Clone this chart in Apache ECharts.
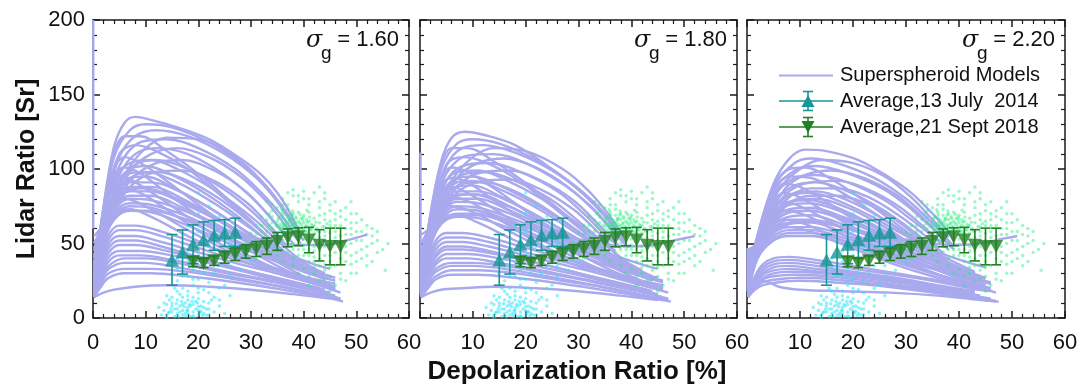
<!DOCTYPE html>
<html><head><meta charset="utf-8">
<script src="https://cdn.jsdelivr.net/npm/echarts@6/dist/echarts.min.js"></script>
<style>html,body{margin:0;padding:0;background:#fff}#c{width:1089px;height:388px}</style>
</head><body><div id="c"></div>
<script>
// ---------- DATA ----------
const panelSigma = ['1.60', '1.80', '2.20'];
const xTitle = 'Depolarization Ratio [%]';
const yTitle = 'Lidar Ratio [Sr]';
const legendNames = ['Superspheroid Models', 'Average,13 July  2014', 'Average,21 Sept 2018'];

// averages (same in every panel)
const julyX = [15, 17, 19, 21, 23, 25, 27];
const julyY = [39, 44.3, 49.5, 52.5, 55.5, 57, 57.5];
const julyErr = [17, 14.8, 13, 12, 10, 9, 9.5];

const septX = [19, 21, 23, 25, 27, 29, 31, 33, 35, 37, 39, 41, 43, 45, 47];
const septY = [37.8, 36.8, 38.5, 40.8, 42.8, 44.7, 46.3, 48.2, 51.4, 53.8, 54.5, 52.3, 48.8, 48, 48];
const septErr = [3.4, 3, 3.2, 4, 4.2, 4.5, 5, 5.5, 6, 6, 6, 8.5, 10.5, 12.3, 12.3];

// superspheroid model curves, flat [x0,y0,x1,y1,...]
const curvesS160 = [
  [0.05,60, 0.05,200],
  [0.2,22, 2,75, 4,115, 6,131, 8,135, 11,133, 16,128, 22,120, 28,107, 32,96, 35,84, 37.5,70, 39.5,55],
  [0.2,28, 2,72, 4,108, 7,126, 10,130, 15,128, 22,118, 28,104, 33,88, 36.5,72, 39,58],
  [0.2,34, 2,70, 5,108, 8,122, 12,126, 18,122, 25,110, 31,94, 35,78, 38,62, 40,52],
  [0.2,40, 2,68, 5,102, 9,118, 14,120, 20,114, 27,100, 32,84, 36,68, 39,52],
  [0.2,45, 2,66, 5,96, 8,110, 12,114, 18,110, 25,96, 31,78, 35,62, 38,50],
  [0.2,50, 2,64, 5,90, 8,103, 12,106, 18,100, 25,86, 30,72, 34,58, 37,48],
  [0.2,55, 2,63, 5,85, 8,96, 12,98, 18,92, 24,80, 30,64, 34,52, 36,45],
  [0.2,32, 3,70, 6,96, 10,114, 14,121, 20,120, 27,108, 32,92, 36,74, 39,58],
  [0.2,36, 3,68, 7,98, 11,110, 16,114, 22,108, 28,95, 33,78, 37,60, 39.5,50],
  [0.2,42, 3,66, 7,92, 12,104, 17,106, 23,99, 29,85, 34,66, 37.5,52],
  [0.2,47, 3,65, 7,88, 12,98, 17,99, 23,92, 29,78, 33,64, 36,52],
  [0.2,26, 2,74, 4,110, 6,122, 9,122, 14,112, 21,94, 28,72, 34,52, 38,40, 41,32],
  [0.2,30, 2,72, 5,110, 8,116, 12,112, 18,100, 25,80, 32,58, 37,42, 40,35],
  [0.2,20, 2,70, 4,100, 6,108, 9,104, 14,92, 20,76, 27,58, 34,40, 40,28, 44,22],
  [0.2,24, 2,72, 4,96, 6,101, 9,97, 14,84, 21,66, 28,49, 35,35, 41,25, 46,20],
  [0.2,26, 2,68, 4,90, 6,94, 9,89, 15,75, 22,58, 29,43, 36,31, 43,22],
  [0.2,30, 2,66, 4,84, 6,87, 10,82, 16,68, 23,52, 31,38, 38,28, 44,21],
  [0.2,33, 2,64, 4,78, 6,80, 10,75, 17,61, 25,46, 33,34, 40,26, 46,19],
  [0.2,36, 2,62, 4,72, 7,73, 11,68, 18,55, 26,42, 34,31, 42,23, 47,17],
  [0.2,30, 2,65, 4,88, 7,100, 10,102, 15,96, 22,82, 29,64, 35,46, 40,34, 43,28],
  [0.2,35, 2,66, 4,92, 7,104, 11,106, 16,100, 23,86, 30,68, 35,52, 39,40, 42,33],
  [0.2,28, 2,62, 4,85, 7,97, 10,98, 16,91, 23,77, 30,60, 36,45, 41,35, 44,30],
  [0.2,25, 2,60, 4,82, 7,94, 10,95, 15,88, 22,74, 30,56, 36,42, 41,32, 44,27],
  [0.2,22, 2,59, 4,80, 7,91, 11,91, 17,84, 24,70, 31,53, 37,40, 42,32, 45,28],
  [0.2,20, 2,58, 4,78, 7,88, 11,88, 17,80, 24,66, 31,50, 37,38, 42,30, 45,26],
  [0.2,19, 2,56, 4,76, 7,85, 11,85, 17,77, 25,63, 32,48, 38,37, 43,30],
  [0.2,18, 2,55, 4,74, 7,82, 11,82, 17,74, 25,60, 32,46, 38,35, 43,28],
  [0.2,17, 2,53, 4,72, 7,80, 11,79, 18,71, 26,57, 33,44, 39,35, 44,28],
  [0.2,16, 2,52, 4,70, 7,77, 11,76, 18,68, 26,54, 33,42, 39,33, 44,26],
  [0.2,15, 2,51, 4,68, 7,75, 11,74, 18,65, 26,52, 34,41, 40,33, 46,27],
  [0.2,15, 2,50, 4,66, 7,72, 11,71, 18,62, 26,50, 34,39, 40,31, 46,25],
  [0.2,40, 2,62, 4,78, 7,86, 10,87, 16,80, 23,68, 30,54, 36,44, 42,36, 45,33],
  [0.2,38, 3,62, 6,72, 11,72, 18,66, 26,58, 33,52, 39,49, 44,49, 48,52, 52,56],
  [0.2,15, 1.5,40, 3,56, 5,62, 8,62, 13,58, 20,50, 28,41, 35,33, 42,26, 46,23],
  [0.2,15, 1.5,38, 3,53, 5,59, 8,59, 13,55, 20,47, 28,38, 36,31, 43,24, 46,21],
  [0.2,15, 1.5,36, 3,50, 5,55, 8,55, 13,51, 20,44, 28,36, 36,29, 43,22],
  [0.2,15, 1.5,34, 3,47, 5,52, 8,52, 13,48, 20,41, 28,33, 36,26, 43,20],
  [0.2,14, 1.5,32, 3,44, 5,49, 8,49, 14,45, 22,38, 30,31, 38,24, 44,19],
  [0.2,14, 1.5,30, 3,41, 5,45, 9,45, 15,42, 23,36, 31,29, 39,22, 45,17],
  [0.2,14, 1.5,28, 3,38, 5,42, 9,42, 15,39, 23,33, 31,27, 39,21, 46,15],
  [0.2,14, 1.5,26, 3,35, 6,40, 10,40, 16,37, 24,31, 33,25, 41,19, 47,13],
  [0.2,14, 1.5,25, 3,33, 6,37, 10,37, 16,34, 24,29, 33,23, 41,17, 47,12],
  [0.2,14, 1.5,23, 3,30, 6,33, 11,33, 18,31, 27,26, 36,21, 44,15, 47,12],
  [0.2,14, 1.5,21, 3,27, 6,30, 11,30, 18,28, 27,24, 36,19, 44,14, 47.5,11],
  [0.2,14, 2,17, 4,19, 8,21, 14,22, 22,21, 30,19, 38,16, 45,13]
];
const curvesS180 = [
  [0.1,16, 0.1,111],
  [0.2,20, 2,70, 4,105, 6,121, 8.5,125, 12,123, 18,116, 25,100, 31,84, 35,70, 37.5,58],
  [0.2,26, 2,68, 4,100, 7,117, 10,120, 15,117, 22,106, 28,92, 33,76, 36.5,62, 38.5,52],
  [0.2,32, 2,66, 5,102, 8,114, 12,116, 18,111, 25,99, 31,83, 35,68, 38,55],
  [0.2,38, 2,65, 5,97, 9,109, 14,110, 20,104, 27,90, 32,76, 36,61, 39,50],
  [0.2,44, 2,63, 5,92, 8,102, 13,104, 19,98, 26,85, 31,70, 35,56, 38,47],
  [0.2,50, 2,62, 5,86, 8,96, 12,98, 18,92, 25,79, 30,65, 34,53, 37,45],
  [0.2,56, 2,61, 5,82, 8,90, 12,91, 18,85, 24,73, 30,58, 34,48],
  [0.2,30, 3,66, 6,92, 10,108, 14,114, 20,112, 27,100, 32,85, 36,68, 38.5,55],
  [0.2,35, 3,64, 7,94, 11,104, 16,107, 22,101, 28,88, 33,72, 37,56, 39.5,47],
  [0.2,41, 3,63, 7,88, 12,98, 17,99, 23,92, 29,79, 34,62, 37.5,49],
  [0.2,46, 3,62, 7,84, 12,92, 17,93, 23,86, 29,73, 33,60, 36,49],
  [0.2,26, 2,70, 4,103, 6,114, 9,114, 14,105, 21,88, 28,68, 34,49, 38,38, 41,31],
  [0.2,30, 2,68, 5,103, 8,108, 12,105, 18,94, 25,75, 32,55, 37,40, 40,34],
  [0.2,20, 2,66, 4,93, 6,101, 9,98, 14,87, 20,72, 27,55, 34,39, 40,28, 44,22],
  [0.2,24, 2,67, 4,89, 6,94, 9,91, 14,79, 21,63, 28,47, 35,34, 41,25, 46,20],
  [0.2,26, 2,63, 4,84, 6,88, 9,84, 15,71, 22,55, 29,41, 36,30, 43,22],
  [0.2,30, 2,62, 4,78, 6,81, 10,77, 16,64, 23,49, 31,36, 38,27, 44,20],
  [0.2,33, 2,60, 4,73, 6,75, 10,71, 17,58, 25,44, 33,33, 40,25, 46,19],
  [0.2,36, 2,58, 4,67, 7,69, 11,64, 18,52, 26,40, 34,30, 42,22, 47,17],
  [0.2,30, 2,62, 4,83, 7,94, 10,95, 15,89, 22,76, 29,60, 35,44, 40,34, 43,29],
  [0.2,34, 2,63, 4,87, 7,98, 11,99, 16,93, 23,80, 30,63, 35,49, 39,38, 42,32],
  [0.2,27, 2,60, 4,80, 7,91, 10,92, 16,85, 23,72, 30,56, 36,43, 41,33, 44,28],
  [0.2,24, 2,58, 4,78, 7,88, 10,89, 15,82, 22,69, 30,53, 36,40, 41,31, 44,27],
  [0.2,22, 2,56, 4,76, 7,85, 11,85, 17,78, 24,65, 31,50, 37,38, 42,30, 45,27],
  [0.2,20, 2,55, 4,74, 7,83, 11,83, 17,75, 24,62, 31,48, 37,37, 42,29, 45,25],
  [0.2,19, 2,53, 4,72, 7,80, 11,80, 17,72, 25,59, 32,46, 38,35, 43,28],
  [0.2,18, 2,52, 4,70, 7,78, 11,77, 17,70, 25,57, 32,44, 38,34, 43,27],
  [0.2,17, 2,51, 4,68, 7,75, 11,74, 18,66, 26,54, 33,42, 39,33, 44,26],
  [0.2,16, 2,50, 4,66, 7,73, 11,72, 18,64, 26,52, 33,41, 39,32, 44,25],
  [0.2,15, 2,49, 4,64, 7,70, 11,70, 18,61, 26,50, 34,39, 40,31, 46,25],
  [0.2,15, 2,48, 4,63, 7,68, 11,67, 18,59, 26,48, 34,37, 40,30, 46,24],
  [0.2,40, 2,60, 4,75, 7,82, 10,83, 16,76, 23,64, 30,52, 36,43, 42,36, 45,33],
  [0.2,36, 3,60, 6,69, 11,69, 18,63, 26,56, 33,51, 39,48, 44,49, 48,52, 52,55],
  [0.2,15, 1.5,38, 3,52, 5,57, 8,57, 13,54, 20,47, 28,39, 35,32, 42,25, 46,22],
  [0.2,15, 1.5,36, 3,49, 5,54, 8,54, 13,51, 20,44, 28,37, 36,30, 43,23, 46,20],
  [0.2,15, 1.5,34, 3,46, 5,51, 8,51, 13,48, 20,42, 28,35, 36,28, 43,21],
  [0.2,15, 1.5,32, 3,43, 5,48, 8,48, 13,45, 20,39, 28,32, 36,25, 43,19],
  [0.2,14, 1.5,30, 3,41, 5,46, 8,46, 14,43, 22,37, 30,30, 38,23, 44,18],
  [0.2,14, 1.5,28, 3,38, 5,43, 9,43, 15,40, 23,34, 31,28, 39,21, 45,16],
  [0.2,14, 1.5,27, 3,36, 5,40, 9,40, 15,37, 23,32, 31,26, 39,20, 46,14],
  [0.2,14, 1.5,25, 3,33, 6,37, 10,37, 16,35, 24,30, 33,24, 41,18, 47,13],
  [0.2,14, 1.5,24, 3,31, 6,35, 10,35, 16,33, 24,28, 33,22, 41,16, 47,12],
  [0.2,14, 1.5,22, 3,28, 6,32, 11,32, 18,30, 27,25, 36,20, 44,14, 47,12],
  [0.2,14, 1.5,20, 3,26, 6,29, 11,29, 18,27, 27,23, 36,18, 44,13, 47.5,11],
  [0.2,14, 2,17, 4,19, 8,20, 14,21, 22,20, 30,18, 38,15, 45,12]
];
const curvesS220 = [
  [0.1,18, 0.1,47],
  [0.2,22, 2,55, 5,90, 8,107, 11,113, 15,112, 21,106, 27,94, 31,84, 35,70, 37.5,60, 39,52],
  [0.2,26, 2,54, 5,88, 9,104, 12,107, 17,104, 24,94, 30,80, 34,67, 37,56, 39,48],
  [0.2,30, 2,53, 5,85, 9,99, 13,102, 19,97, 26,86, 31,73, 35,60, 38,50],
  [0.2,34, 2,52, 5,81, 9,94, 13,96, 19,91, 26,79, 31,66, 35,55, 38,46],
  [0.2,38, 2,51, 5,77, 9,89, 13,91, 19,85, 25,74, 30,62, 34,51, 37,44],
  [0.2,42, 2,50, 5,73, 9,84, 13,85, 19,79, 25,68, 30,57, 34,47],
  [0.2,46, 2,50, 5,69, 9,79, 13,80, 19,74, 25,63, 30,52, 33,45],
  [0.2,28, 3,60, 6,86, 10,100, 14,106, 20,104, 26,95, 31,81, 35,66, 38,54],
  [0.2,32, 3,58, 7,86, 11,96, 16,99, 22,94, 28,83, 33,68, 37,53, 39,46],
  [0.2,36, 3,56, 7,82, 12,91, 17,92, 23,86, 29,74, 34,59, 37.5,48],
  [0.2,40, 3,55, 7,78, 12,87, 17,87, 23,81, 29,68, 33,57, 36,47],
  [0.2,44, 3,54, 7,74, 12,82, 17,82, 23,76, 28,66, 32,55, 35,46],
  [0.2,26, 2,56, 5,88, 8,100, 11,101, 16,93, 22,79, 29,61, 35,45, 39,35, 42,30],
  [0.2,30, 2,55, 5,86, 8,95, 12,94, 18,84, 25,68, 32,51, 37,38, 40,33],
  [0.2,20, 2,50, 5,82, 7,90, 10,88, 15,78, 21,64, 28,49, 35,36, 41,27, 45,22],
  [0.2,24, 2,52, 5,78, 7,84, 10,81, 15,71, 22,57, 29,43, 36,32, 42,24, 46,20],
  [0.2,26, 2,50, 5,73, 7,78, 10,75, 16,64, 23,50, 30,38, 37,28, 43,21],
  [0.2,30, 2,49, 5,68, 7,72, 11,69, 17,58, 24,45, 32,34, 39,26, 45,20],
  [0.2,33, 2,48, 5,63, 7,66, 11,63, 18,52, 26,40, 34,31, 41,24, 46,19],
  [0.2,36, 2,47, 5,58, 8,61, 12,58, 19,48, 27,37, 35,28, 43,21, 47,17],
  [0.2,28, 2,50, 5,70, 8,78, 12,79, 17,74, 23,64, 29,53, 35,42, 40,34, 43,30],
  [0.2,30, 2,52, 5,74, 8,82, 12,84, 17,79, 23,69, 29,57, 35,45, 40,36, 43,31],
  [0.2,26, 2,49, 5,68, 8,76, 12,77, 18,71, 24,61, 31,49, 37,39, 42,31, 45,27],
  [0.2,24, 2,48, 5,66, 8,73, 12,74, 18,68, 24,59, 31,47, 37,37, 42,30, 45,26],
  [0.2,22, 2,47, 5,64, 8,71, 12,72, 18,66, 25,56, 32,45, 38,35, 43,28],
  [0.2,20, 2,46, 5,62, 8,68, 12,69, 18,63, 25,54, 32,43, 38,34, 43,27],
  [0.2,19, 2,45, 5,60, 8,66, 12,66, 18,61, 26,51, 33,41, 39,32, 44,26],
  [0.2,18, 2,44, 5,58, 8,63, 12,64, 18,58, 26,49, 33,39, 39,31, 44,25],
  [0.2,17, 2,43, 5,57, 8,61, 12,61, 19,55, 27,46, 34,37, 40,29, 46,24],
  [0.2,16, 2,42, 5,55, 8,59, 12,59, 19,53, 27,44, 34,35, 40,28, 46,23],
  [0.2,15, 2,41, 5,53, 8,57, 12,57, 19,51, 27,43, 35,34, 42,27],
  [0.2,15, 2,40, 5,52, 8,55, 12,55, 19,49, 27,41, 35,33, 42,26],
  [0.2,36, 2,50, 5,64, 8,71, 12,72, 17,68, 23,60, 30,51, 36,44, 42,37, 45,34],
  [0.2,34, 3,52, 6,62, 11,65, 18,61, 26,55, 33,51, 39,49, 44,50, 48,53, 51,55],
  [0.2,15, 1.5,28, 3,36, 5,40, 8,41, 13,39, 20,35, 28,30, 35,26, 42,21, 46,19],
  [0.2,15, 1.5,27, 3,34, 5,38, 8,39, 13,37, 20,33, 28,29, 35,25, 42,20, 46,18],
  [0.2,15, 1.5,25, 3,32, 5,36, 8,37, 13,35, 20,31, 28,27, 36,22, 43,18],
  [0.2,15, 1.5,24, 3,30, 5,34, 8,35, 13,33, 20,30, 28,26, 36,21, 43,17],
  [0.2,14, 1.5,23, 3,29, 5,32, 8,33, 14,31, 22,28, 30,24, 38,19, 44,15],
  [0.2,14, 1.5,22, 3,27, 5,30, 8,31, 14,30, 22,27, 30,23, 38,18, 44,14],
  [0.2,14, 1.5,21, 3,26, 5,28, 9,29, 15,28, 23,25, 31,21, 39,17, 46,13],
  [0.2,14, 1.5,20, 3,24, 6,26, 10,27, 16,26, 24,23, 33,19, 41,15, 47,11.5],
  [0.2,14, 1.5,19, 3,22, 6,24, 10,25, 16,24, 24,22, 33,18, 41,14, 47,11],
  [0.2,20, 1.5,25, 3,25, 6,21, 10,19, 18,18, 27,17, 36,15, 44,12, 47.5,11]
];

// measured point clouds (same in every panel), flat [x,y,...]
const septDots = [
  35,57, 35,61, 35,65, 35.5,59, 35.5,63, 35.5,68, 36,56, 36,60, 36,64, 36,67, 36,71, 36.5,58, 36.5,62, 36.5,66,
  37,57, 37,61, 37,64, 37,69, 37,73, 37.5,59, 37.5,63, 37.5,67, 38,56, 38,60, 38,62, 38,66, 38,70, 38.5,58,
  38.5,64, 38.5,68, 39,57, 39,61, 39,65, 39,71, 39.5,59, 39.5,63, 39.5,67, 40,56, 40,60, 40,64, 40,69, 40.5,58,
  40.5,62, 40.5,66, 41,57, 41,61, 41,65, 41,71, 41.5,59, 41.5,63, 42,57, 42,62, 42,67, 42.5,60, 43,58, 43,64,
  43,69, 44,61, 44,66, 34,60, 34,64, 34,68, 33.5,62, 34.5,57, 36.2,62.5, 37.3,65.5, 38.7,61.5, 39.8,65.8,
  36.8,59.7, 38.2,57.8, 40.3,61.2, 35.8,61.4, 37.8,69.2, 39.3,69.5,
  36.3,60.8, 36.7,63.8, 37.2,58.3, 37.7,61.2, 38.3,63.3, 38.8,59.8, 39.2,63.8, 39.7,61.3, 40.2,58.2, 40.7,64.2,
  41.2,59.3, 41.7,61.6, 37.4,66.4, 38.6,66.9, 39.9,67.4, 41.1,67.8, 36.1,69.1, 35.2,66.8, 34.7,62.3, 42.3,64.3,
  42.7,58.3, 43.6,61.4, 44.4,63.3, 37.9,71.8, 40.6,72.3, 35.8,72.7,
  30,45, 31,52, 32,58, 32,48, 33,50, 34,45, 35,42, 36,48, 37,44, 38,40, 39,46, 40,42, 41,38, 42,45, 43,40,
  44,48, 45,42, 46,50, 47,55, 48,60, 45,62, 46,66, 44,70, 43,74, 41,76, 39,78, 37,76, 35,74, 38,82, 40,80,
  42,84, 45,72, 47,68, 49,64, 50,58, 51,52, 52,48, 53,60, 50,70, 48,74, 46,78, 44,80, 36,80, 34,72, 32,68,
  31,62, 33,78, 47,45, 49,50, 50,44, 48,38, 46,35, 44,32, 42,30, 40,33, 38,35, 45,28, 47,30, 49,36, 51,40,
  54,52, 55,46, 55.5,32, 53,38, 50,30, 48,25, 46,22, 43,25, 41,28, 39,30, 52,56, 51,66, 49,78, 43,88, 38,86,
  41,22, 45,18, 30,57, 29,50, 31,40, 36,38, 37,52, 35,53, 42,53, 44,55, 46,58, 48,48, 45,52, 43,50, 44,36,
  42,38, 40,49, 47,62, 45,57, 43,45, 49,56, 41,46,
  32.5,54, 33,66, 33.5,70, 34,52, 34.5,48, 35,46, 36,52, 37,48, 38,50, 38,46, 39,52, 39,42, 40,46, 40,53,
  41,50, 41,42, 42,48, 42,41, 43,54, 43,35, 44,42, 44,58, 45,46, 45,65, 45,38, 46,44, 46,54, 46,62, 47,50,
  47,40, 47,72, 48,56, 48,66, 48,44, 49,42, 49,60, 49,70, 50,52, 50,38, 50,64, 51,46, 51,58, 52,42, 52,62,
  53,50, 53,55, 54,44, 54,58, 56,50, 52,35, 49,30, 47,26, 44,26, 42,34, 45,34, 43,78, 45,76, 41,80, 39,82,
  36,76, 34,76, 33,58, 32,62, 31,56, 30,50, 29,46, 46,70, 40,85, 37,84, 44,84
];
const julyDots = [
  14,2, 15,4, 15.5,1, 16,6, 16,3, 16.5,8, 17,2, 17,5, 17.5,10, 18,3, 18,7, 18.5,1, 19,4, 19,9, 19.5,6, 20,2,
  20,5, 20.5,8, 21,3, 21,11, 15,8, 14.5,12, 16,12, 17,14, 18,12, 19,14, 20,13, 21.5,6, 22,2, 13.5,5, 14,9,
  15,14, 16.5,16, 18,18, 20,17, 17,20, 19,22, 15.5,20, 21,19, 22,10, 23,4, 23,14, 24,8, 25,3, 13,2, 12.5,7,
  16,25, 18,28, 20,26, 22,24, 19,32, 17,35, 21,38, 23,30, 25,22, 26,28, 24,35, 20,42, 18,45, 22,48, 25,45,
  27,40, 28,32, 19,55, 21,60, 24,55, 26,50, 18,62, 20,70, 22,75, 24,68, 17,50, 28,46, 30,38, 16,40, 15,30,
  14.8,6, 15.8,9.5, 16.8,11, 17.8,5, 18.8,11, 19.8,10, 20.8,1.5, 16.3,0.8, 17.6,1.2, 19.2,0.6, 14.3,3.5,
  17.3,7.5, 18.3,9, 20.3,3.5, 20,84, 23,65,
  14,0.5, 14.5,4, 15,10, 15.5,6, 16,1.5, 16.5,4, 17,9, 17.5,3, 18,5, 18.5,8, 19,1.5, 19.5,11, 20,7.5,
  20.5,4.5, 21,7, 21.5,2, 22,6, 22.5,12, 13.5,10, 14,15, 16,18, 18,15, 20,20, 22,17, 24,12, 24,20, 26,15,
  19,26, 21,30, 17,28, 23,42, 21,50, 20,58, 25,60, 27,55, 29,42, 26,35, 18,38, 16,33
];

// ---------- BUILD ----------
const FONT = 'Liberation Sans, Arial, sans-serif';
const LAV = '#a9a9ee', TEAL = '#169696', GREEN = '#237f23';
const grids = [
  {left: 93, top: 20, width: 316, height: 298},
  {left: 420, top: 20, width: 317, height: 298},
  {left: 747, top: 20, width: 318, height: 298}
];
const panelCurves = [curvesS160, curvesS180, curvesS220];
const pairs = a => { const r = []; for (let i = 0; i < a.length; i += 2) r.push([a[i], a[i + 1]]); return r; };
const axisLineStyle = {color: '#1a1a1a', width: 1.5};

const xAxis = [], yAxis = [], series = [];
grids.forEach((g, i) => {
  const common = {gridIndex: i, type: 'value', min: 0, max: 60, interval: 10, splitLine: {show: false},
    axisLine: {show: true, onZero: false, lineStyle: axisLineStyle},
    axisTick: {show: true, inside: true, length: 7, lineStyle: axisLineStyle},
    minorTick: {show: true, splitNumber: 5, length: 4, lineStyle: {color: '#1a1a1a', width: 1.2}}};
  xAxis.push(Object.assign({}, common, {position: 'bottom',
    axisLabel: {show: true, fontSize: 22, color: '#111', fontFamily: FONT, margin: 14, showMinLabel: i === 0}}));
  xAxis.push(Object.assign({}, common, {position: 'top', axisLabel: {show: false}}));
  const ycommon = {gridIndex: i, type: 'value', min: 0, max: 200, interval: 50, splitLine: {show: false},
    axisLine: {show: true, onZero: false, lineStyle: axisLineStyle},
    axisTick: {show: true, inside: true, length: 7, lineStyle: axisLineStyle},
    minorTick: {show: true, splitNumber: 5, length: 4, lineStyle: {color: '#1a1a1a', width: 1.2}}};
  yAxis.push(Object.assign({}, ycommon, {position: 'left',
    axisLabel: {show: i === 0, fontSize: 22, color: '#111', fontFamily: FONT, margin: 8}}));
  yAxis.push(Object.assign({}, ycommon, {position: 'right', axisLabel: {show: false}}));

  const xi = i * 2, yi = i * 2;
  panelCurves[i].forEach(c => series.push({
    type: 'line', name: legendNames[0], xAxisIndex: xi, yAxisIndex: yi, data: pairs(c),
    smooth: 0.35, symbol: 'none', silent: true, z: 1, clip: true,
    lineStyle: {color: LAV, width: 2.4}
  }));
  series.push({type: 'scatter', xAxisIndex: xi, yAxisIndex: yi, data: pairs(julyDots), symbolSize: 3.5,
    silent: true, z: 2, itemStyle: {color: 'rgba(40,228,245,0.65)'}});
  series.push({type: 'scatter', xAxisIndex: xi, yAxisIndex: yi, data: pairs(septDots), symbolSize: 3.5,
    silent: true, z: 2, itemStyle: {color: 'rgba(30,240,120,0.55)'}});

  const errSeries = (xs, ys, es, color, cap) => ({
    type: 'custom', xAxisIndex: xi, yAxisIndex: yi, z: 3, silent: true,
    data: xs.map((x, k) => [x, ys[k], es[k]]),
    encode: {x: 0, y: 1},
    renderItem: (params, api) => {
      const x = api.value(0), y = api.value(1), e = api.value(2);
      const t = api.coord([x, y + e]), b = api.coord([x, y - e]);
      const st = {stroke: color, lineWidth: 1.6};
      return {type: 'group', children: [
        {type: 'line', shape: {x1: t[0], y1: t[1], x2: b[0], y2: b[1]}, style: st},
        {type: 'line', shape: {x1: t[0] - cap, y1: t[1], x2: t[0] + cap, y2: t[1]}, style: st},
        {type: 'line', shape: {x1: b[0] - cap, y1: b[1], x2: b[0] + cap, y2: b[1]}, style: st}
      ]};
    }
  });
  series.push(errSeries(julyX, julyY, julyErr, TEAL, 5.5));
  series.push(errSeries(septX, septY, septErr, GREEN, 5));
  series.push({type: 'scatter', name: legendNames[1], xAxisIndex: xi, yAxisIndex: yi, z: 4, silent: true,
    data: julyX.map((x, k) => [x, julyY[k]]), symbol: 'triangle', symbolSize: [14, 13],
    itemStyle: {color: TEAL}});
  series.push({type: 'scatter', name: legendNames[2], xAxisIndex: xi, yAxisIndex: yi, z: 4, silent: true,
    data: septX.map((x, k) => [x, septY[k]]), symbol: 'triangle', symbolRotate: 180, symbolSize: [14, 13],
    itemStyle: {color: GREEN}});
});

// annotations & legend
const graphic = [];
graphic.push({type: 'text', x: 27, y: 169, rotation: Math.PI / 2,
  style: {text: yTitle, font: 'bold 25px ' + FONT, fill: '#111', align: 'center', verticalAlign: 'middle'}});
graphic.push({type: 'text', x: 577, y: 372,
  style: {text: xTitle, font: 'bold 26px ' + FONT, fill: '#111', align: 'center', verticalAlign: 'middle'}});
grids.forEach((g, i) => {
  const R = g.left + g.width;
  graphic.push({type: 'text', x: R - 10, y: 40, style: {text: '= ' + panelSigma[i], font: '22px ' + FONT,
    fill: '#111', align: 'right', verticalAlign: 'middle'}});
  graphic.push({type: 'text', x: R - 103, y: 41, style: {text: 'σ', font: 'italic 24px "DejaVu Serif", serif',
    fill: '#111', align: 'left', verticalAlign: 'middle'}});
  graphic.push({type: 'text', x: R - 88, y: 54, style: {text: 'g', font: '19px ' + FONT,
    fill: '#111', align: 'left', verticalAlign: 'middle'}});
});
const LX0 = 779, LX1 = 833, LXM = 808, LT = 840;
const legRows = [75.5, 101, 127];
graphic.push({type: 'line', shape: {x1: LX0, y1: legRows[0], x2: LX1, y2: legRows[0]}, style: {stroke: LAV, lineWidth: 2}});
[[TEAL, 1, false], [GREEN, 2, true]].forEach(([col, r, down]) => {
  const y = legRows[r];
  const st = {stroke: col, lineWidth: 1.6};
  graphic.push({type: 'line', shape: {x1: LX0, y1: y, x2: LX1, y2: y}, style: st});
  graphic.push({type: 'line', shape: {x1: LXM, y1: y - 9.5, x2: LXM, y2: y + 9.5}, style: st});
  graphic.push({type: 'line', shape: {x1: LXM - 5, y1: y - 9.5, x2: LXM + 5, y2: y - 9.5}, style: st});
  graphic.push({type: 'line', shape: {x1: LXM - 5, y1: y + 9.5, x2: LXM + 5, y2: y + 9.5}, style: st});
  const pts = down ? [[LXM - 6.5, y - 6], [LXM + 6.5, y - 6], [LXM, y + 6]] : [[LXM - 6.5, y + 6], [LXM + 6.5, y + 6], [LXM, y - 6]];
  graphic.push({type: 'polygon', shape: {points: pts}, style: {fill: col}});
});
legendNames.forEach((n, k) => graphic.push({type: 'text', x: LT, y: legRows[k],
  style: {text: n, font: '20px ' + FONT, fill: '#111', align: 'left', verticalAlign: 'middle'}}));

const chart = echarts.init(document.getElementById('c'), null, {renderer: 'canvas'});
chart.setOption({animation: false, backgroundColor: '#fff', grid: grids, xAxis, yAxis, series, graphic});
</script></body></html>
